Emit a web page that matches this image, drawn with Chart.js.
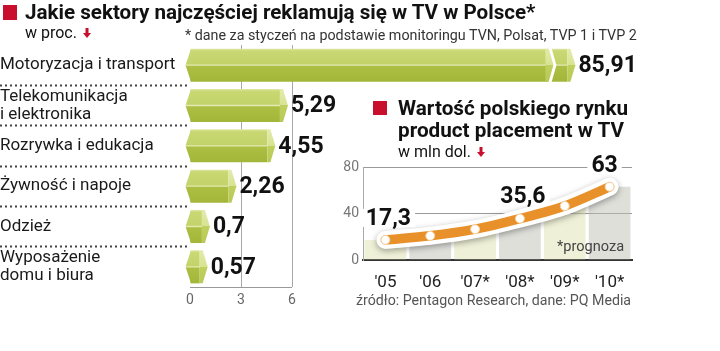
<!DOCTYPE html>
<html lang="pl">
<head>
<meta charset="utf-8">
<script src="https://cdn.jsdelivr.net/npm/chart.js@4.4.1/dist/chart.umd.min.js"></script>
<style>
  html, body { margin: 0; padding: 0; background: #fff; }
  #wrap { position: relative; width: 720px; height: 351px; overflow: hidden; font-family: Roboto, "Liberation Sans", sans-serif; color: #111; }
  #wrap canvas { position: absolute; }
  .txt { position: absolute; white-space: nowrap; line-height: 1; z-index: 2; }
  .sq { position: absolute; background: #c8102e; z-index: 2; }
  .arrow { display: inline-block; vertical-align: baseline; margin-left: 6px; }
</style>
</head>
<body>
<div id="wrap">
  <canvas id="chartSektory" width="720" height="351" style="left:0;top:0"></canvas>
  <canvas id="chartRynek" width="320" height="140" style="left:330px;top:150px"></canvas>

  <div class="sq" style="left:3px;top:5px;width:14px;height:15px"></div>
  <div class="txt" style="left:25px;top:2px;font-size:20.6px;font-weight:700">Jakie sektory najczęściej reklamują się w TV w Polsce*</div>
  <div class="txt" style="left:25px;top:25px;font-size:16px">w proc.<svg class="arrow" width="8" height="10" viewBox="0 0 8 10"><path d="M2.5 0h3v5H8L4 10 0 5h2.5z" fill="#c8102e"/></svg></div>
  <div class="txt" style="left:185px;top:28px;font-size:14.3px;color:#333">* dane za styczeń na podstawie monitoringu TVN, Polsat, TVP 1 i TVP 2</div>

  <div class="sq" style="left:373px;top:101px;width:14px;height:14px"></div>
  <div class="txt" style="left:398px;top:97px;font-size:20.7px;font-weight:700;line-height:22px">Wartość polskiego rynku<br>product placement w TV</div>
  <div class="txt" style="left:398px;top:144px;font-size:16px">w mln dol.<svg class="arrow" width="8" height="10" viewBox="0 0 8 10"><path d="M2.5 0h3v5H8L4 10 0 5h2.5z" fill="#c8102e"/></svg></div>
  <div class="txt" style="left:557px;top:239px;font-size:14.6px;color:#444">*prognoza</div>
  <div class="txt" style="left:356px;top:293px;font-size:14.2px;color:#555">źródło: Pentagon Research, dane: PQ Media</div>
</div>

<script>
// --- dane ---
const SEKTORY = [
    'Motoryzacja i transport',
    ['Telekomunikacja', 'i elektronika'],
    'Rozrywka i edukacja',
    'Żywność i napoje',
    'Odzież',
    ['Wyposażenie', 'domu i biura']
];
const UDZIAL = [85.91, 5.29, 4.55, 2.26, 0.7, 0.57];
const TICKS_X = [0, 3, 6];
const BREAK_VALUE = 22.2;   // gdzie urywa się najdłuższy słupek

const LATA = ["'05", "'06", "'07*", "'08*", "'09*", "'10*"];
const RYNEK = [17.3, 20.8, 26.5, 35.6, 46.5, 63];
const RYNEK_OPISY = [0, 3, 5];   // które wartości podpisać
const TICKS_Y = [0, 40, 80];

const fmt = v => String(v).replace('.', ',');

Chart.defaults.font.family = 'Roboto, "Liberation Sans", sans-serif';
Chart.defaults.animation = false;

// --- wykres sektorów ---
function faceGradient(ctx, top, bot) {
    const g = ctx.createLinearGradient(0, top, 0, bot);
    g.addColorStop(0, '#dfe8a6');
    g.addColorStop(0.07, '#c9d873');
    g.addColorStop(0.46, '#c3d36a');
    g.addColorStop(0.5, '#e2eab2');
    g.addColorStop(0.54, '#acbf42');
    g.addColorStop(1, '#a3b63a');
    return g;
}

function capGradient(ctx, top, bot) {
    const g = ctx.createLinearGradient(0, top, 0, bot);
    g.addColorStop(0, '#e3ebac');
    g.addColorStop(0.5, '#d7e391');
    g.addColorStop(0.5, '#c0cf5e');
    g.addColorStop(1, '#b9c956');
    return g;
}

function drawCap(ctx, x, top, mid, bot) {
    ctx.fillStyle = capGradient(ctx, top, bot);
    ctx.beginPath();
    ctx.moveTo(x, top);
    ctx.lineTo(x + 3, top);
    ctx.lineTo(x + 8, mid);
    ctx.lineTo(x + 3, bot);
    ctx.lineTo(x, bot);
    ctx.closePath();
    ctx.fill();
}

const prismPlugin = {
    id: 'prism',
    afterDatasetsDraw(chart) {
        const ctx = chart.ctx;
        const meta = chart.getDatasetMeta(0);
        meta.data.forEach((bar, i) => {
            const { x, y, base, height } = bar.getProps(['x', 'y', 'base', 'height'], true);
            const top = y - height / 2, bot = y + height / 2;
            ctx.save();
            // lewy, ścięty koniec
            ctx.fillStyle = faceGradient(ctx, top, bot);
            ctx.beginPath();
            ctx.moveTo(base + 0.5, top);
            ctx.lineTo(base - 5, y);
            ctx.lineTo(base + 0.5, bot);
            ctx.closePath();
            ctx.fill();
            // przerwa w skali
            if (UDZIAL[i] > BREAK_VALUE) {
                const xb = x - 14;
                drawCap(ctx, xb - 8, top, y, bot);
                ctx.strokeStyle = '#fff';
                ctx.lineWidth = 3;
                ctx.beginPath();
                ctx.moveTo(xb - 3.5, top - 1);
                ctx.lineTo(xb + 1.5, y);
                ctx.lineTo(xb - 3.5, bot + 1);
                ctx.stroke();
            }
            drawCap(ctx, x, top, y, bot);
            // wartość
            ctx.fillStyle = '#111';
            ctx.font = 'bold 23px Roboto, "Liberation Sans", sans-serif';
            ctx.textAlign = 'left';
            ctx.textBaseline = 'middle';
            ctx.fillText(fmt(UDZIAL[i]), x + 11, y + 1);
            ctx.restore();
        });
        // oś X tylko od 0 do 6
        const sx = chart.scales.x;
        const yb = Math.round(chart.chartArea.bottom) + 0.5;
        ctx.save();
        ctx.strokeStyle = '#999';
        ctx.lineWidth = 1;
        ctx.beginPath();
        ctx.moveTo(sx.getPixelForValue(TICKS_X[0]), yb);
        ctx.lineTo(sx.getPixelForValue(TICKS_X[TICKS_X.length - 1]), yb);
        ctx.stroke();
        ctx.restore();
    }
};

const canvasSektory = document.getElementById('chartSektory');
new Chart(canvasSektory.getContext('2d'), {
    type: 'bar',
    data: {
        labels: SEKTORY,
        datasets: [{
            data: UDZIAL.map(v => Math.min(v, BREAK_VALUE)),
            backgroundColor: (c) => {
                const sy = c.chart.scales.y;
                const yc = sy ? sy.getPixelForValue(c.dataIndex) : NaN;
                const h = sy ? (sy.height / SEKTORY.length) * 0.82 : NaN;
                if (!isFinite(yc) || !isFinite(h) || h <= 0) return '#b8ca55';
                return faceGradient(c.chart.ctx, yc - h / 2, yc + h / 2);
            },
            borderWidth: 0,
            barPercentage: 0.82,
            categoryPercentage: 1
        }]
    },
    options: {
        indexAxis: 'y',
        responsive: false,
        layout: { padding: { top: 45, left: 0, right: 0, bottom: 0 } },
        plugins: { legend: { display: false }, tooltip: { enabled: false } },
        scales: {
            x: {
                min: 0,
                max: 530 / 17,
                afterBuildTicks: (s) => { s.ticks = TICKS_X.map(v => ({ value: v })); },
                afterFit: (s) => { s.height = 64; },
                border: { display: false },
                grid: {
                    color: (c) => (c.tick && c.tick.value === 0) ? 'rgba(0,0,0,0)' : '#a8a8a8',
                    lineWidth: 1,
                    drawTicks: false
                },
                ticks: { color: '#666', font: { size: 14 }, padding: 5 }
            },
            y: {
                afterFit: (s) => { s.width = 190; },
                border: { display: false },
                grid: {
                    offset: true,
                    drawOnChartArea: false,
                    drawTicks: true,
                    tickLength: 190,
                    tickWidth: 2,
                    tickBorderDash: [2, 3],
                    tickColor: (c) => (c.type === 'tick' && c.index > 0) ? '#444' : 'rgba(0,0,0,0)'
                },
                ticks: {
                    crossAlign: 'far',
                    color: '#1a1a1a',
                    font: { size: 17, lineHeight: 1.05 }
                }
            }
        }
    },
    plugins: [prismPlugin]
});

// --- wykres rynku product placement ---
const shadowPlugin = {
    id: 'shadow',
    beforeDatasetDraw(chart, args) {
        if (args.index === 1) {
            const ctx = chart.ctx;
            ctx.save();
            ctx.shadowColor = 'rgba(0,0,0,0.35)';
            ctx.shadowBlur = 6;
            ctx.shadowOffsetY = 2;
        }
    },
    afterDatasetDraw(chart, args) {
        if (args.index === 1) chart.ctx.restore();
    },
    afterDatasetsDraw(chart) {
        const ctx = chart.ctx;
        const pts = chart.getDatasetMeta(0).data;
        ctx.save();
        ctx.font = 'bold 23px Roboto, "Liberation Sans", sans-serif';
        ctx.textAlign = 'center';
        ctx.textBaseline = 'middle';
        RYNEK_OPISY.forEach(i => {
            const p = pts[i];
            const t = fmt(RYNEK[i]);
            const w = ctx.measureText(t).width;
            const lx = i === RYNEK.length - 1 ? p.x - 5 : p.x + 3;
            const ly = p.y - 22;
            ctx.fillStyle = '#fff';
            ctx.fillRect(lx - w / 2 - 4, ly - 9, w + 8, 18);
            ctx.fillStyle = '#111';
            ctx.fillText(t, lx, ly + 1);
        });
        ctx.restore();
    }
};

const canvasRynek = document.getElementById('chartRynek');
new Chart(canvasRynek.getContext('2d'), {
    type: 'bar',
    data: {
        labels: LATA,
        datasets: [
            {
                type: 'line',
                data: RYNEK,
                borderColor: '#e8902a',
                borderWidth: 9.5,
                borderCapStyle: 'round',
                tension: 0.3,
                pointRadius: 4.5,
                pointBackgroundColor: '#fff',
                pointBorderColor: '#f5cf9a',
                pointBorderWidth: 1,
                order: 1
            },
            {
                type: 'line',
                data: RYNEK,
                borderColor: '#fff',
                borderWidth: 18,
                borderCapStyle: 'round',
                tension: 0.3,
                pointRadius: 0,
                order: 2
            },
            {
                type: 'bar',
                data: RYNEK,
                backgroundColor: LATA.map((_, i) => i % 2 === 0 ? 'rgba(222,226,175,0.5)' : 'rgba(190,192,180,0.5)'),
                borderWidth: 0,
                barPercentage: 0.93,
                categoryPercentage: 1,
                order: 3
            }
        ]
    },
    options: {
        responsive: false,
        layout: { padding: { top: 17, left: 0, right: 18, bottom: 0 } },
        plugins: { legend: { display: false }, tooltip: { enabled: false } },
        scales: {
            x: {
                afterFit: (s) => { s.height = 30; },
                grid: { display: false },
                border: { color: '#333', width: 2 },
                ticks: { color: '#222', font: { size: 17 }, padding: 5 }
            },
            y: {
                min: 0,
                max: 80,
                afterBuildTicks: (s) => { s.ticks = TICKS_Y.map(v => ({ value: v })); },
                afterFit: (s) => { s.width = 33; },
                border: { color: '#aaa', width: 1 },
                grid: {
                    color: (c) => (c.tick && c.tick.value === 0) ? 'rgba(0,0,0,0)' : '#9a9a9a',
                    drawTicks: false
                },
                ticks: { color: '#777', font: { size: 14 }, padding: 4 }
            }
        }
    },
    plugins: [shadowPlugin]
});
</script>
</body>
</html>
